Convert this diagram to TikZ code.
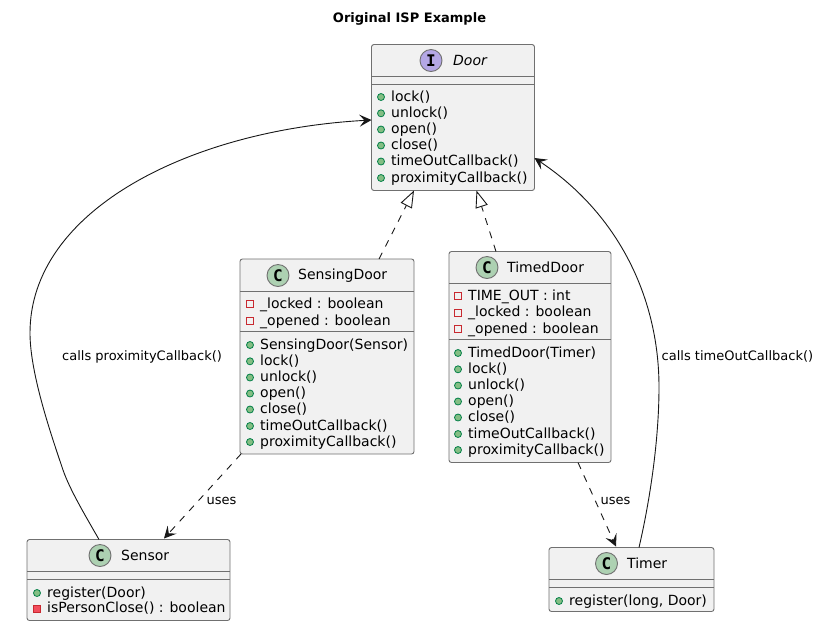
\documentclass[tikz,border=0pt]{standalone}
\usepackage{fontspec}
\usetikzlibrary{calc,arrows.meta}
\setmainfont{DejaVu Sans}
\newfontfamily\iconfont{DejaVu Sans Mono}
\definecolor{boxfill}{HTML}{F1F1F1}
\definecolor{boxline}{HTML}{181818}
\definecolor{sepline}{HTML}{707070}
\definecolor{classicon}{HTML}{ADD1B2}
\definecolor{ifaceicon}{HTML}{B4A7E5}
\definecolor{pubfill}{HTML}{84BE84}
\definecolor{publine}{HTML}{038048}
\definecolor{privline}{HTML}{C82930}
\definecolor{privfill}{HTML}{F24D5C}
\tikzset{
 x=1pt,y=-1pt,
 umlbox/.style={draw=sepline,line width=0.9pt,fill=boxfill,rounded corners=2.5pt,inner sep=0pt,outer sep=0pt,anchor=north west},
 sepl/.style={draw=sepline,line width=0.9pt},
 iconc/.style={circle,draw=sepline,line width=0.9pt,minimum size=22pt,inner sep=0pt,font=\iconfont\bfseries\fontsize{16}{16}\selectfont},
 titletext/.style={font=\bfseries\fontsize{13}{13}\selectfont,inner sep=0pt},
 hdrtext/.style={font=\fontsize{14}{14}\selectfont,anchor=west,inner sep=0pt},
 hdritalic/.style={font=\itshape\fontsize{14}{14}\selectfont,anchor=west,inner sep=0pt},
 memtext/.style={font=\fontsize{14}{14}\selectfont,anchor=base west,inner sep=0pt},
 edgetext/.style={font=\fontsize{13}{13}\selectfont,anchor=west,inner sep=0pt},
 pubmark/.style={circle,draw=publine,fill=pubfill,line width=0.8pt,minimum size=7pt,inner sep=0pt},
 privhollow/.style={rectangle,draw=privline,fill=none,line width=0.9pt,minimum size=7pt,inner sep=0pt},
 privsolid/.style={rectangle,draw=privline,fill=privfill,line width=0.9pt,minimum size=7pt,inner sep=0pt},
 conn/.style={draw=boxline,line width=0.9pt},
 realise/.style={conn,dash pattern=on 7pt off 7pt,-{Triangle[open,length=17pt,width=12.5pt,fill=white]}},
 depend/.style={conn,dash pattern=on 7pt off 7pt,-{Stealth[length=12pt,width=12pt,inset=5pt]}},
 assoc/.style={conn,-{Stealth[length=12pt,width=12pt,inset=5pt]}},
}
\newcommand{\pubrow}[4]{\node[pubmark] at (#2-10,#3-4) {};\node[memtext] (#1) at (#2,#3) {#4};}
\newcommand{\privrow}[4]{\node[privhollow] at (#2-10,#3-4) {};\node[memtext] (#1) at (#2,#3) {#4};}
\newcommand{\privmrow}[4]{\node[privsolid] at (#2-10,#3-4) {};\node[memtext] (#1) at (#2,#3) {#4};}
\begin{document}
\begin{tikzpicture}
\useasboundingbox[fill=white] (0,0) rectangle (819,625);
\node[titletext] (ttl) at (409.5,18.5) {Original ISP Example};
% boxes
\node[umlbox,minimum width=163pt,minimum height=146pt] (door) at (371.5,44.5) {};
\node[umlbox,minimum width=174pt,minimum height=195pt] (sensing) at (240,259) {};
\node[umlbox,minimum width=162pt,minimum height=211pt] (timed) at (449,251.5) {};
\node[umlbox,minimum width=203pt,minimum height=81pt] (sensor) at (27,539.5) {};
\node[umlbox,minimum width=165pt,minimum height=64pt] (timer) at (549,547.5) {};
% separators
\draw[sepl] (371.5,76.5) -- (534.5,76.5) (371.5,84.5) -- (534.5,84.5);
\draw[sepl] (240,291.5) -- (414,291.5) (240,331.5) -- (414,331.5);
\draw[sepl] (449,283.5) -- (611,283.5) (449,339.5) -- (611,339.5);
\draw[sepl] (27,571.5) -- (230,571.5) (27,579.5) -- (230,579.5);
\draw[sepl] (549,579.5) -- (714,579.5) (549,587.5) -- (714,587.5);
% headers
\node[iconc,fill=ifaceicon] (doori) at (431,60.5) {I};
\node[hdritalic] (doorn) at (453,60.5) {Door};
\node[iconc,fill=classicon] (sensingi) at (278,275.5) {C};
\node[hdrtext] (sensingn) at (298,275.5) {SensingDoor};
\node[iconc,fill=classicon] (timedi) at (487,267.5) {C};
\node[hdrtext] (timedn) at (507,267.5) {TimedDoor};
\node[iconc,fill=classicon] (sensori) at (100,555.5) {C};
\node[hdrtext] (sensorn) at (121,555.5) {Sensor};
\node[iconc,fill=classicon] (timeri) at (606.5,563.5) {C};
\node[hdrtext] (timern) at (627,563.5) {Timer};
% Door
\pubrow{d1}{391}{101}{lock()}
\pubrow{d2}{391}{117.3}{unlock()}
\pubrow{d3}{391}{133.5}{open()}
\pubrow{d4}{391}{149.5}{close()}
\pubrow{d5}{391}{165.5}{timeOutCallback()}
\pubrow{d6}{391}{182}{proximityCallback()}
% SensingDoor
\privrow{s1}{260}{308}{\_locked : boolean}
\privrow{s2}{260}{325}{\_opened : boolean}
\pubrow{s3}{260}{349}{SensingDoor(Sensor)}
\pubrow{s4}{260}{365.3}{lock()}
\pubrow{s5}{260}{381.5}{unlock()}
\pubrow{s6}{260}{397.5}{open()}
\pubrow{s7}{260}{413.5}{close()}
\pubrow{s8}{260}{430}{timeOutCallback()}
\pubrow{s9}{260}{446}{proximityCallback()}
% TimedDoor
\privrow{t1}{468}{300}{TIME\_OUT : int}
\privrow{t2}{468}{316.5}{\_locked : boolean}
\privrow{t3}{468}{333}{\_opened : boolean}
\pubrow{t4}{468}{357}{TimedDoor(Timer)}
\pubrow{t5}{468}{373.3}{lock()}
\pubrow{t6}{468}{389.5}{unlock()}
\pubrow{t7}{468}{405.5}{open()}
\pubrow{t8}{468}{421.5}{close()}
\pubrow{t9}{468}{438}{timeOutCallback()}
\pubrow{t10}{468}{454}{proximityCallback()}
% Sensor
\pubrow{r1}{47}{597}{register(Door)}
\privmrow{r2}{47}{612.5}{isPersonClose() : boolean}
% Timer
\pubrow{m1}{569}{605}{register(long, Door)}
% connectors
\draw[realise] ($(sensing.north west)+(139,0)$) -- ($(door.south west)+(42.5,0)$);
\draw[realise] ($(timed.north west)+(47,0)$) -- ($(door.south west)+(105,0)$);
\draw[depend] ($(sensing.south west)+(1,0)$) -- ($(sensor.north west)+(137,-1)$);
\draw[depend] ($(timed.south west)+(129,0)$) -- ($(timer.north west)+(67,-1)$);
\draw[assoc] ($(sensor.north west)+(72,0)$) .. controls (85,515) and (70,490) .. (63,470)
  .. controls (53,440) and (30,375) .. (30,333)
  .. controls (30,210) and (190,130) .. ($(door.north west)+(0,75.5)$);
\draw[assoc] ($(timer.north west)+(90,0)$) .. controls (650,500) and (659,440) .. (659,387)
  .. controls (659,300) and (620,215) .. ($(door.north east)+(0,113.5)$);
% labels
\node[edgetext] (l1) at (62,356.5) {calls proximityCallback()};
\node[edgetext] (l2) at (661.5,356.5) {calls timeOutCallback()};
\node[edgetext] (l3) at (206.5,500.5) {uses};
\node[edgetext] (l4) at (600.5,500.5) {uses};
\end{tikzpicture}
\end{document}
